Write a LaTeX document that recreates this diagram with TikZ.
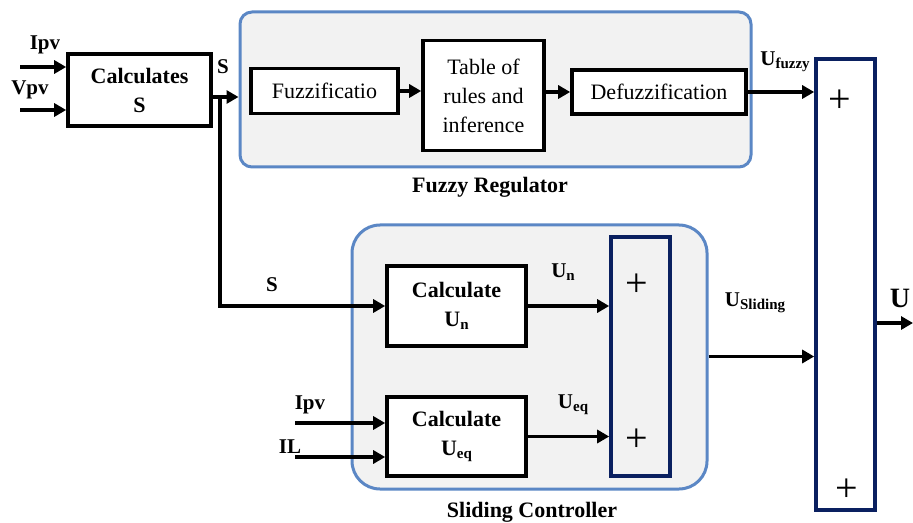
\documentclass[tikz,border=0pt]{standalone}
\usepackage{fontspec}
\setmainfont{Liberation Serif}
\usetikzlibrary{arrows.meta,positioning}
\definecolor{regionblue}{HTML}{5B87C5}
\definecolor{regiongray}{HTML}{F2F2F2}
\definecolor{navy}{HTML}{0A2060}
\newcommand{\lowsub}[1]{\raisebox{-0.35ex}{\fontsize{7.5}{8}\selectfont #1}}

\begin{document}
\begin{tikzpicture}[x=0.5pt,y=-0.5pt,
    region/.style={draw=regionblue, fill=regiongray, line width=1.5pt, inner sep=0pt},
    box/.style={draw, line width=1.8pt, fill=white, align=center, inner sep=0pt,
        font=\fontsize{11}{14.5}\selectfont},
    boldbox/.style={box, font=\fontsize{11}{14.5}\selectfont\bfseries},
    sumbar/.style={draw=navy, line width=1.8pt, inner sep=0pt},
    plus/.style={font=\fontsize{20}{20}\selectfont, inner sep=0pt},
    sig/.style={font=\fontsize{10.5}{12}\selectfont\bfseries, inner sep=0pt},
    arr/.style={line width=1.8pt, -{Triangle[length=6pt,width=6.5pt]}}]
    \useasboundingbox (0,0) rectangle (913,523);

    % the two controllers
    \node[region, rounded corners=6pt, minimum width=255.5pt, minimum height=77.5pt] (fuzzy) at (495.5,89.5) {};
    \node[region, rounded corners=14pt, minimum width=177.5pt, minimum height=132pt] (sliding) at (529.5,357) {};

    \node[boldbox, minimum width=71.5pt, minimum height=36pt] (calc) at (139.5,90) {Calculates\\S};

    \node[box, minimum width=73.5pt, minimum height=22.5pt] (fuzzif) at (324.5,91) {Fuzzificatio};
    \node[box, minimum width=60.5pt, minimum height=55pt] (rules) at (483.5,95.5) {Table of\\rules and\\inference};
    \node[box, minimum width=87pt, minimum height=22pt] (defuzz) at (659,92) {Defuzzification};

    \node[boldbox, minimum width=69.5pt, minimum height=40pt] (calcun) at (456.5,306) {Calculate\\U\lowsub{n}};
    \node[boldbox, minimum width=69.5pt, minimum height=39.5pt] (calceq) at (456.5,436.5) {Calculate\\U\lowsub{eq}};

    % summing bars
    \node[sumbar, minimum width=29.5pt, minimum height=119.5pt] (isum) at (640.5,356.5) {};
    \node[sumbar, fill=white, minimum width=29.5pt, minimum height=225.5pt] (sum) at (845.5,284.5) {};
    \node[plus] (isumtop) at (637,285) {+};
    \node[plus] (isumbot) at (637,440) {+};
    \node[plus] (sumtop) at (840,101) {+};
    \node[plus] (sumbot) at (847,490) {+};

    % labels
    \node[sig] (ipvlab) at (45,45) {Ipv};
    \node[sig] (vpvlab) at (30,90) {Vpv};
    \node[sig] (slab) at (223,67) {S};
    \node[sig] (s2lab) at (272,285) {S};
    \node[sig] (unlab) at (563,272) {U\lowsub{n}};
    \node[sig] (ueqlab) at (573,405) {U\lowsub{eq}};
    \node[sig] (ipv2lab) at (310,405) {Ipv};
    \node[sig] (illab) at (290,447) {IL};
    \node[sig] (ufuzlab) at (785,62) {U\lowsub{fuzzy}};
    \node[sig] (uslidlab) at (755,303) {U\lowsub{Sliding}};
    \node[sig, font=\fontsize{14}{14}\selectfont\bfseries] (ulab) at (900,298) {U};
    \node[sig, font=\fontsize{11}{12}\selectfont\bfseries] (fuzzytitle) at (490,187) {Fuzzy Regulator};
    \node[sig, font=\fontsize{11}{12}\selectfont\bfseries] (slidingtitle) at (532,512) {Sliding Controller};

    \coordinate (ipvin) at (20,67);
    \coordinate (vpvin) at (20,110);
    \coordinate (sout) at (220,97);
    \coordinate (ipv2in) at (295,423);
    \coordinate (ilin) at (295,457);
    \coordinate (uout) at (913,323);

    % signals
    \draw[arr] (ipvin) -- (ipvin -| calc.west);
    \draw[arr] (vpvin) -- (vpvin -| calc.west);
    \draw[arr] (calc.east |- sout) -- (fuzzy.west |- sout);
    \draw[arr] (sout) |- (calcun.west);
    \draw[arr] (fuzzif.east) -- (fuzzif.east -| rules.west);
    \draw[arr] (defuzz.west -| rules.east) -- (defuzz.west);
    \draw[arr] (defuzz.east) -- (defuzz.east -| sum.west);
    \draw[arr] (calcun.east) -- (calcun.east -| isum.west);
    \draw[arr] (calceq.east) -- (calceq.east -| isum.west);
    \draw[arr] (ipv2in) -- (ipv2in -| calceq.west);
    \draw[arr] (ilin) -- (ilin -| calceq.west);
    \draw[arr] (sliding.east |- isum.east) -- (sum.west |- isum.east);
    \draw[arr] (sum.east |- uout) -- (uout);
\end{tikzpicture}
\end{document}
